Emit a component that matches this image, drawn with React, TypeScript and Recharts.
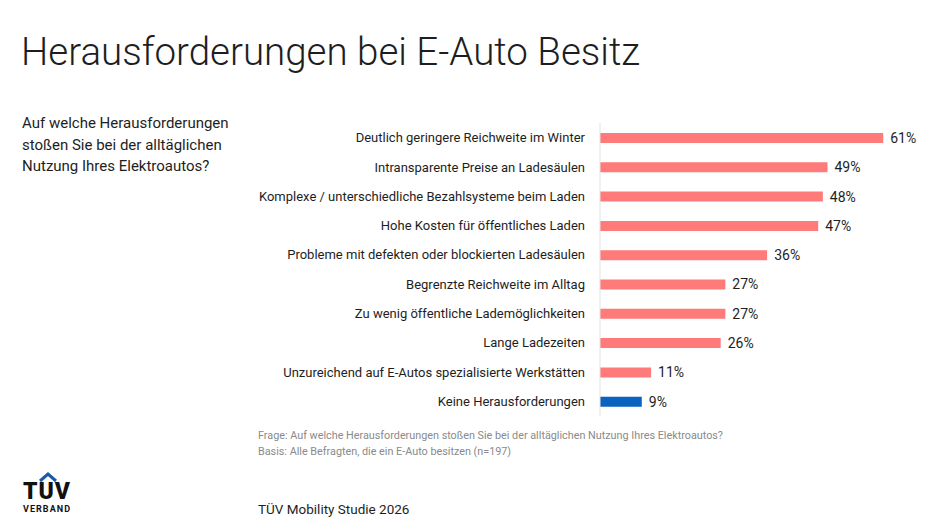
import { BarChart, Bar, XAxis, YAxis, Cell, LabelList } from 'recharts'

const categories = [
    'Deutlich geringere Reichweite im Winter',
    'Intransparente Preise an Ladesäulen',
    'Komplexe / unterschiedliche Bezahlsysteme beim Laden',
    'Hohe Kosten für öffentliches Laden',
    'Probleme mit defekten oder blockierten Ladesäulen',
    'Begrenzte Reichweite im Alltag',
    'Zu wenig öffentliche Lademöglichkeiten',
    'Lange Ladezeiten',
    'Unzureichend auf E-Autos spezialisierte Werkstätten',
    'Keine Herausforderungen',
]

const shares = [61, 49, 48, 47, 36, 27, 27, 26, 11, 9]

const highlighted = ['Keine Herausforderungen']

const FONT = 'Roboto, "Noto Sans", sans-serif'
const RED = '#ff7b79'
const BLUE = '#0a62bf'

const data = categories.map((name, i) => ({ name, value: shares[i] }))

function Logo() {
    return (
        <svg width={70} height={60} style={{ position: 'absolute', left: 16, top: 468 }}>
            <path d='M24 13 L32 6 L40 13' fill='none' stroke='#1b5aa6' strokeWidth={3} />
            <text x={7} y={31} fontFamily={FONT} fontWeight={900} fontSize={23} fill='#111' textLength={47}>
                TUV
            </text>
            <text x={7} y={44} fontFamily={FONT} fontWeight={700} fontSize={9} fill='#111' textLength={47}>
                VERBAND
            </text>
        </svg>
    )
}

export default function App() {
    return (
        <div
            style={{
                position: 'absolute',
                left: 0,
                top: 0,
                width: 945,
                height: 532,
                background: '#fff',
                fontFamily: FONT,
                color: '#1e1e1e',
                overflow: 'hidden',
            }}
        >
            <div style={{ position: 'absolute', left: 21, top: 29, fontSize: 38.5, fontWeight: 300, whiteSpace: 'nowrap' }}>
                Herausforderungen bei E-Auto Besitz
            </div>

            <div style={{ position: 'absolute', left: 22, top: 113, fontSize: 15, lineHeight: '21.5px', width: 240 }}>
                Auf welche Herausforderungen
                <br />
                stoßen Sie bei der alltäglichen
                <br />
                Nutzung Ihres Elektroautos?
            </div>

            <div style={{ position: 'absolute', left: 0, top: 113 }}>
                <BarChart
                    width={945}
                    height={313}
                    data={data}
                    layout='vertical'
                    margin={{ top: 10, right: 20, bottom: 10, left: 0 }}
                >
                    <XAxis type='number' domain={[0, 70]} hide />
                    <YAxis
                        type='category'
                        dataKey='name'
                        width={600}
                        tickSize={0}
                        tickMargin={15}
                        axisLine={{ stroke: '#e3e3e3' }}
                        tickLine={false}
                        interval={0}
                        tick={{ fill: '#1e1e1e', fontSize: 13, fontFamily: FONT }}
                    />
                    <Bar dataKey='value' barSize={10} isAnimationActive={false}>
                        {data.map((d) => (
                            <Cell key={d.name} fill={highlighted.includes(d.name) ? BLUE : RED} />
                        ))}
                        <LabelList
                            dataKey='value'
                            position='right'
                            offset={7}
                            formatter={(v: unknown) => `${v}%`}
                            style={{ fill: '#1e1e1e', fontSize: 14, fontFamily: FONT }}
                        />
                    </Bar>
                </BarChart>
            </div>

            <div style={{ position: 'absolute', left: 258, top: 428, fontSize: 10.8, lineHeight: '16px', color: '#8a8a8a', whiteSpace: 'nowrap' }}>
                Frage: Auf welche Herausforderungen stoßen Sie bei der alltäglichen Nutzung Ihres Elektroautos?
                <br />
                Basis: Alle Befragten, die ein E-Auto besitzen (n=197)
            </div>

            <div style={{ position: 'absolute', left: 258, top: 501, fontSize: 13.5 }}>TÜV Mobility Studie 2026</div>

            <Logo />
        </div>
    )
}
